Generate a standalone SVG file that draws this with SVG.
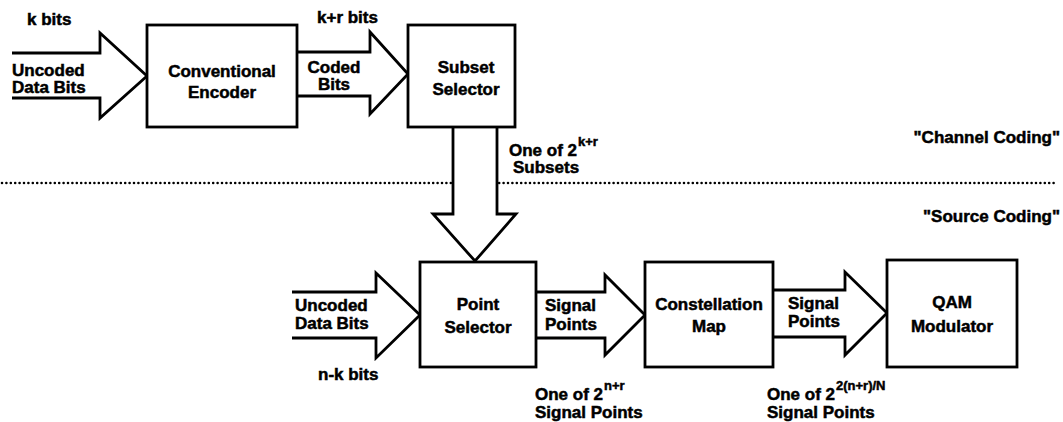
<svg xmlns="http://www.w3.org/2000/svg" width="1063" height="422" viewBox="0 0 1063 422">
  <style>
    .box { fill: #fff; stroke: #000; stroke-width: 2.8; }
    .arrow { fill: #fff; stroke: #000; stroke-width: 2.8; stroke-linejoin: miter; }
    .fillonly { fill: #fff; stroke: none; }
    .sep { fill: none; stroke: #000; stroke-width: 2.6; stroke-linecap: round; stroke-dasharray: 0 4.4; }
    text { font-family: "Liberation Sans", Arial, sans-serif; font-weight: bold; font-size: 17px; fill: #000; stroke: #000; stroke-width: 0.5; }
    .mid { text-anchor: middle; }
    .end { text-anchor: end; }
    .sup { font-size: 13px; }
  </style>

  <!-- boundary between channel coding and source coding -->
  <line class="sep" x1="2" y1="183" x2="1055" y2="183"/>

  <g id="connectors">
    <!-- uncoded data bits into the encoder -->
    <g id="arrow-k-bits">
      <polygon class="fillonly" points="12,53 100,53 100,33 147,76 100,118 100,98 12,98"/>
      <polyline class="arrow" points="12,53 100,53 100,33 147,76 100,118 100,98 12,98"/>
    </g>
    <!-- coded bits into the subset selector -->
    <g id="arrow-coded-bits">
      <polygon class="fillonly" points="297,52 370,52 370,32 408,74 370,114 370,96 297,96"/>
      <polyline class="arrow" points="297,52 370,52 370,32 408,74 370,114 370,96 297,96"/>
    </g>
    <!-- chosen subset down to the point selector -->
    <g id="arrow-subset">
      <polygon class="fillonly" points="453,127 453,214 433,214 475,261 516,214 497,214 497,127"/>
      <polyline class="arrow" points="453,127 453,214 433,214 475,261 516,214 497,214 497,127"/>
    </g>
    <!-- uncoded data bits into the point selector -->
    <g id="arrow-n-k-bits">
      <polygon class="fillonly" points="292,292 376,292 376,273 420,315 376,358 376,338 292,338"/>
      <polyline class="arrow" points="292,292 376,292 376,273 420,315 376,358 376,338 292,338"/>
    </g>
    <!-- signal points into the constellation map -->
    <g id="arrow-signal-points-1">
      <polygon class="fillonly" points="536,292 605,292 605,275 645,315 605,355 605,338 536,338"/>
      <polyline class="arrow" points="536,292 605,292 605,275 645,315 605,355 605,338 536,338"/>
    </g>
    <!-- signal points into the modulator -->
    <g id="arrow-signal-points-2">
      <polygon class="fillonly" points="773,290 845,290 845,272 887,313 845,355 845,337 773,337"/>
      <polyline class="arrow" points="773,290 845,290 845,272 887,313 845,355 845,337 773,337"/>
    </g>
  </g>

  <g id="conventional-encoder">
    <rect class="box" x="147" y="25" width="150" height="102"/>
    <text class="mid" x="222" y="77">Conventional</text>
    <text class="mid" x="222" y="98">Encoder</text>
  </g>

  <g id="subset-selector">
    <rect class="box" x="408" y="25" width="107" height="102"/>
    <text class="mid" x="466" y="73">Subset</text>
    <text class="mid" x="466" y="95">Selector</text>
  </g>

  <g id="point-selector">
    <rect class="box" x="420" y="262" width="116" height="105"/>
    <text class="mid" x="478" y="310">Point</text>
    <text class="mid" x="478" y="333">Selector</text>
  </g>

  <g id="constellation-map">
    <rect class="box" x="645" y="262" width="128" height="105"/>
    <text class="mid" x="709" y="310">Constellation</text>
    <text class="mid" x="709" y="332">Map</text>
  </g>

  <g id="qam-modulator">
    <rect class="box" x="887" y="260" width="130" height="107"/>
    <text class="mid" x="952" y="308">QAM</text>
    <text class="mid" x="952" y="332">Modulator</text>
  </g>

  <g id="labels">
    <text x="27" y="25">k bits</text>
    <text x="12" y="76">Uncoded</text>
    <text x="12" y="93">Data Bits</text>

    <text x="317" y="23">k+r bits</text>
    <text class="mid" x="334" y="73">Coded</text>
    <text class="mid" x="334" y="90">Bits</text>

    <text x="509" y="156">One of 2<tspan class="sup" dx="1" dy="-10">k+r</tspan></text>
    <text x="513" y="173">Subsets</text>

    <text class="end" x="1060" y="143">"Channel Coding"</text>
    <text class="end" x="1060" y="222">"Source Coding"</text>

    <text x="295" y="311">Uncoded</text>
    <text x="295" y="329">Data Bits</text>
    <text x="318" y="380">n-k bits</text>

    <text x="545" y="311">Signal</text>
    <text x="545" y="330">Points</text>
    <text x="535" y="400">One of 2<tspan class="sup" dx="1" dy="-10">n+r</tspan></text>
    <text x="535" y="418">Signal Points</text>

    <text x="788" y="309">Signal</text>
    <text x="788" y="327">Points</text>
    <text x="767" y="400">One of 2<tspan class="sup" dx="1" dy="-10">2(n+r)/N</tspan></text>
    <text x="767" y="418">Signal Points</text>
  </g>
</svg>
